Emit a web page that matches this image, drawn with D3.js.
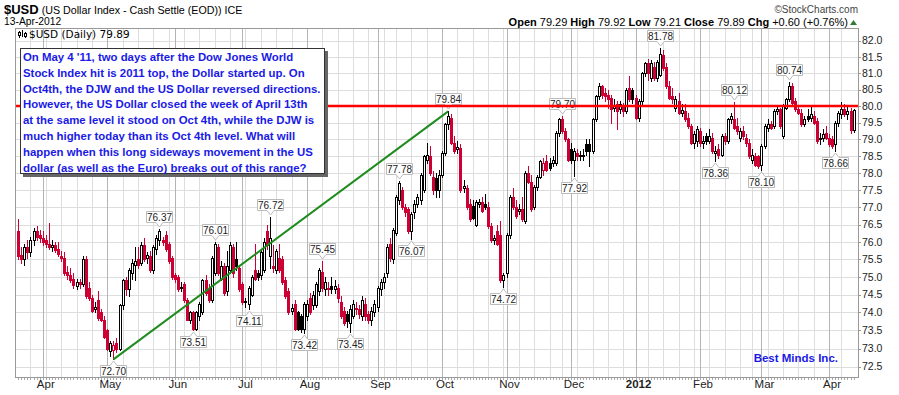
<!DOCTYPE html>
<html>
<head>
<meta charset="utf-8">
<script src="https://cdn.jsdelivr.net/npm/d3@7"></script>
<style>
  body { margin: 0; background: #fff; }
  svg { display: block; font-family: "Liberation Sans", Arial, sans-serif; }
</style>
</head>
<body>
<script>
// trading calendar
var firstDay = '2011-03-22', lastDay = '2012-04-13';
var holidays = ['2011-09-05', '2011-11-24', '2011-12-26', '2012-01-02', '2012-02-20', '2012-04-06'];

// daily candles
var opens = [
  76.30,75.62,75.50,75.85,75.70,76.05,76.30,76.20,76.10,76.05,
  75.95,75.85,75.90,75.80,75.60,75.55,75.15,75.05,74.95,74.75,
  74.85,74.80,75.50,74.70,74.40,74.10,74.35,74.00,73.80,73.50,
  72.92,72.95,73.15,73.00,74.20,74.90,74.65,75.10,75.35,75.50,
  75.40,75.90,75.55,75.60,75.20,75.80,76.05,76.05,76.20,75.95,
  75.55,75.05,75.00,74.68,74.80,74.35,73.80,74.00,73.55,73.90,
  74.00,74.90,74.70,74.35,75.10,75.85,74.95,75.30,74.60,75.20,
  75.85,75.50,75.25,74.80,74.30,74.25,74.50,75.20,75.10,75.05,
  75.20,76.30,75.60,75.30,75.20,75.55,75.50,74.90,74.60,74.05,
  74.25,74.00,73.90,73.55,73.90,74.40,74.20,74.20,74.60,75.15,
  74.65,74.70,74.75,74.65,74.70,74.30,74.05,73.95,73.70,73.90,
  74.10,74.10,73.90,74.25,73.95,73.80,74.00,74.15,74.65,74.85,
  75.10,75.95,75.50,76.25,77.20,77.50,77.00,76.95,76.30,76.85,
  77.10,77.20,77.50,78.40,78.50,77.90,77.85,77.50,77.95,78.60,
  79.45,79.65,78.90,78.70,78.75,77.55,77.55,77.10,77.05,76.50,
  77.10,77.15,77.10,77.00,76.45,76.05,76.30,76.20,74.90,75.10,
  76.20,77.30,77.00,76.90,76.95,76.60,78.00,77.75,77.00,77.60,
  77.90,78.10,78.35,78.30,78.30,78.30,79.20,79.60,79.25,79.00,
  78.70,78.40,78.60,78.55,78.55,78.85,78.85,78.65,79.60,80.30,
  80.60,80.40,80.35,80.25,79.95,80.05,79.90,80.00,79.85,80.55,
  80.50,80.25,79.65,80.15,81.00,81.30,80.85,81.20,80.85,80.95,
  81.55,81.20,80.60,80.30,79.95,80.15,79.80,79.85,79.65,79.40,
  78.90,78.95,79.25,78.90,79.10,78.95,79.05,78.60,78.70,78.55,
  79.10,78.95,79.60,79.60,79.40,79.05,79.25,79.05,78.90,78.40,
  78.50,78.50,78.25,78.80,79.35,79.45,79.40,79.85,79.90,79.10,
  79.95,80.20,80.60,80.15,79.90,79.80,79.45,79.70,79.65,79.70,
  79.55,79.00,79.05,79.20,79.05,79.00,78.85,79.50,79.75,79.90,
  79.75,79.85,79.29
];
var highs = [
  76.67,75.85,75.95,76.05,76.15,76.40,76.45,76.35,76.30,76.20,
  76.55,76.05,76.00,76.00,75.75,75.70,75.30,75.25,75.10,74.95,
  74.95,75.60,75.60,74.85,74.50,74.30,74.60,74.10,73.90,73.55,
  73.20,73.20,73.30,74.25,74.95,75.00,75.25,75.50,75.85,75.85,
  76.00,76.10,75.70,75.75,75.90,76.20,76.37,76.15,76.30,76.00,
  75.60,75.10,75.05,74.85,74.85,74.40,74.05,74.05,74.05,74.30,
  74.95,75.05,74.80,75.60,76.01,75.95,75.45,75.40,75.75,76.00,
  75.95,76.00,75.35,74.85,74.40,74.75,75.05,75.95,75.20,75.80,
  76.10,76.50,76.72,75.90,75.80,75.95,75.60,75.00,74.70,74.25,
  74.35,74.05,73.95,74.30,74.35,74.55,74.60,74.85,75.25,75.45,
  75.00,74.85,75.00,74.90,74.80,74.45,74.15,74.05,74.20,74.35,
  74.30,74.20,74.45,74.40,74.05,74.15,74.35,74.75,74.95,75.10,
  75.95,76.10,76.40,77.35,77.78,77.60,77.10,77.00,76.85,77.20,
  77.40,78.00,78.55,78.90,78.80,78.05,78.00,78.10,78.65,79.50,
  79.84,79.75,79.10,78.95,78.85,77.80,77.65,77.25,77.20,77.20,
  77.25,77.30,77.40,77.15,76.55,76.20,76.50,76.60,75.10,76.25,
  77.35,77.55,77.20,77.10,77.30,78.05,78.20,77.95,77.65,77.95,
  78.40,78.45,78.55,78.45,78.50,79.25,79.65,79.70,79.35,79.05,
  78.90,78.75,78.70,78.65,78.70,79.00,79.00,79.65,80.35,80.70,
  80.65,80.55,80.50,80.35,80.20,80.15,80.15,80.10,80.55,80.90,
  80.55,80.35,80.20,81.05,81.35,81.45,81.40,81.35,81.40,81.78,
  81.70,81.30,80.75,80.55,80.30,80.40,80.05,80.05,79.80,79.45,
  79.25,79.40,79.35,79.10,79.20,79.30,79.20,78.80,78.85,79.15,
  79.20,79.65,79.80,80.12,79.65,79.35,79.40,79.15,79.00,78.70,
  78.60,78.55,78.85,79.45,79.60,79.55,79.90,80.00,79.95,80.05,
  80.25,80.74,80.70,80.25,80.00,79.90,79.70,79.90,80.00,79.85,
  79.65,79.20,79.30,79.40,79.15,79.10,79.55,79.85,80.12,80.05,
  80.00,79.95,79.92
];
var lows = [
  75.52,75.40,75.35,75.55,75.60,75.90,76.05,76.00,75.90,75.85,
  75.80,75.75,75.70,75.60,75.45,75.05,74.95,74.85,74.70,74.65,
  74.70,74.75,74.40,74.35,74.00,74.00,73.80,73.75,73.30,72.95,
  72.80,72.70,72.90,72.95,74.10,74.50,74.45,74.95,74.90,75.25,
  75.35,75.45,75.40,75.15,75.10,75.65,75.90,75.90,75.75,75.40,
  74.95,74.85,74.60,74.60,74.30,73.78,73.70,73.51,73.52,73.80,
  73.95,74.50,74.30,74.30,75.05,75.05,74.90,74.50,74.50,75.10,
  75.00,75.20,74.60,74.25,74.15,74.11,74.45,74.90,74.90,74.95,
  75.15,75.80,75.25,75.15,75.10,75.15,74.80,74.40,73.95,73.95,
  73.50,73.50,73.45,73.42,73.80,73.95,74.10,74.15,74.50,74.60,
  74.50,74.50,74.55,74.55,74.30,73.85,73.65,73.60,73.45,73.85,
  73.95,73.85,73.80,73.80,73.70,73.65,73.90,74.05,74.50,74.70,
  75.00,75.45,75.40,76.20,77.10,76.95,76.75,76.25,76.07,76.70,
  77.00,77.10,77.45,78.30,77.95,77.40,77.30,77.30,77.90,78.55,
  79.30,78.85,78.60,78.60,77.45,77.45,76.95,76.60,76.65,76.45,
  77.00,76.85,76.95,76.40,76.00,75.95,75.90,74.85,74.72,75.00,
  76.10,76.95,76.70,76.80,76.60,76.55,77.70,76.90,76.95,77.50,
  77.85,77.95,78.05,78.10,78.20,78.25,79.10,79.20,78.95,78.35,
  78.30,77.92,78.40,78.40,78.40,78.55,78.20,78.60,79.55,80.20,
  80.25,80.15,79.95,79.50,79.85,79.30,79.80,79.70,79.80,80.15,
  80.10,79.60,79.55,80.05,80.90,80.80,80.75,80.80,80.75,80.90,
  81.10,80.55,80.20,80.10,79.85,79.75,79.70,79.55,79.35,78.85,
  78.75,78.80,78.80,78.75,78.85,78.90,78.60,78.36,78.45,78.50,
  78.85,78.90,79.50,79.30,79.15,78.95,79.00,78.80,78.45,78.30,
  78.20,78.15,78.10,78.75,79.25,79.30,79.35,79.75,79.35,79.05,
  79.90,80.15,80.05,79.85,79.75,79.40,79.40,79.55,79.55,79.45,
  78.90,78.85,78.95,79.00,78.80,78.75,78.66,79.40,79.65,79.70,
  79.60,79.20,79.21
];
var closes = [
  75.60,75.50,75.85,75.70,76.05,76.30,76.15,76.10,76.00,75.95,
  75.85,75.90,75.78,75.65,75.55,75.10,75.05,74.90,74.78,74.85,
  74.80,75.50,74.45,74.40,74.05,74.15,73.85,73.80,73.32,72.98,
  73.14,73.10,73.00,74.20,74.90,74.65,75.20,75.40,75.45,75.35,
  75.90,75.50,75.62,75.20,75.85,76.10,76.30,76.00,75.80,75.45,
  75.00,74.95,74.65,74.72,74.35,73.80,74.00,73.55,74.00,74.25,
  74.90,74.55,74.35,75.55,75.95,75.10,75.30,74.55,75.30,75.90,
  75.10,75.30,74.65,74.30,74.32,74.70,75.00,74.95,75.00,75.70,
  76.00,75.90,76.10,75.25,75.75,75.20,74.85,74.45,74.00,74.12,
  73.55,73.55,73.55,74.25,74.25,74.00,74.50,74.80,75.20,74.70,
  74.85,74.65,74.65,74.75,74.40,73.90,73.70,73.75,74.10,74.25,
  74.12,73.95,74.35,73.90,73.80,74.05,74.25,74.70,74.85,75.00,
  75.85,75.55,76.35,77.30,77.70,77.00,76.85,76.30,76.80,77.10,
  77.30,77.95,78.50,78.55,78.00,77.50,77.50,77.95,78.60,79.45,
  79.70,78.90,78.65,78.78,77.50,77.62,77.00,76.65,76.70,77.15,
  77.15,76.90,77.00,76.45,76.05,76.10,75.95,74.90,75.05,76.20,
  77.30,77.00,76.75,76.95,76.65,78.00,77.75,76.95,77.60,77.90,
  78.35,78.30,78.10,78.15,78.40,79.20,79.60,79.25,79.00,78.40,
  78.40,78.65,78.50,78.50,78.50,78.65,78.65,79.60,80.30,80.60,
  80.35,80.30,80.20,79.90,80.00,79.85,80.05,79.85,80.50,80.20,
  80.20,79.65,80.15,81.00,81.30,81.00,81.30,80.85,81.35,81.60,
  81.15,80.60,80.25,80.20,80.20,79.80,79.88,79.60,79.40,78.90,
  79.15,79.30,78.90,78.95,78.95,79.10,78.65,78.65,78.55,79.10,
  78.95,79.60,79.70,79.35,79.25,79.25,79.10,78.90,78.50,78.55,
  78.25,78.20,78.80,79.40,79.45,79.35,79.85,79.90,79.40,80.00,
  80.20,80.60,80.10,79.90,79.80,79.45,79.60,79.60,79.75,79.50,
  78.95,79.05,79.15,79.05,78.85,78.80,79.50,79.80,79.90,79.75,
  79.85,79.29,79.89
];

// swing highs / lows that carry a value tag: [day index, value, side]
var swings = [
  [31, 72.70, 'low'], [46, 76.37, 'high'], [57, 73.51, 'low'], [64, 76.01, 'high'],
  [75, 74.11, 'low'], [82, 76.72, 'high'], [93, 73.42, 'low'], [99, 75.45, 'high'],
  [108, 73.45, 'low'], [124, 77.78, 'high'], [128, 76.07, 'low'], [140, 79.84, 'high'],
  [158, 74.72, 'low'], [177, 79.70, 'high'], [181, 77.92, 'low'], [209, 81.78, 'high'],
  [227, 78.36, 'low'], [233, 80.12, 'high'], [242, 78.10, 'low'], [251, 80.74, 'high'],
  [266, 78.66, 'low']
];
var trendFrom = [31, 72.70], trendTo = [140, 79.84];
var resistance = 80.0;

var priceTicks = [72.5, 73.0, 73.5, 74.0, 74.5, 75.0, 75.5, 76.0, 76.5, 77.0,
                  77.5, 78.0, 78.5, 79.0, 79.5, 80.0, 80.5, 81.0, 81.5, 82.0];
var monthLabels = ['Apr', 'May', 'Jun', 'Jul', 'Aug', 'Sep', 'Oct', 'Nov', 'Dec', '2012', 'Feb', 'Mar', 'Apr'];

var noteLines = [
  "On May 4 '11, two days after the Dow Jones World",
  "Stock Index hit is 2011 top, the Dollar started up. On",
  "Oct4th, the DJW and the US Dollar reversed directions.",
  "However, the US Dollar closed the week of April 13th",
  "at the same level it stood on Oct 4th, while the DJW is",
  "much higher today than its Oct 4th level. What will",
  "happen when this long sideways movement in the US",
  "dollar (as well as the Euro) breaks out of this range?"
];

var W = 899, H = 395;
var plot = {left: 15, right: 858, top: 28, bottom: 377};
var RED = '#cc0033', BLUE = '#1a1ae6';

var svg = d3.select('body').append('svg').attr('width', W).attr('height', H);

var parse = d3.timeParse('%Y-%m-%d'), fmt = d3.timeFormat('%Y-%m-%d');
var hol = new Set(holidays);
var days = d3.timeDay.range(parse(firstDay), d3.timeDay.offset(parse(lastDay), 1))
  .filter(function(d) { return d.getDay() % 6 !== 0 && !hol.has(fmt(d)); });

var x = d3.scaleLinear().domain([0, days.length - 1]).range([18.2, 853.6]);
var y = d3.scaleLog().domain([72.5, 82]).range([366.7, 40.7]);
var px = function(i) { return Math.round(x(i)); };
var py = function(v) { return Math.round(y(v)); };

var weekStarts = [], monthStarts = [];
days.forEach(function(d, i) {
  if (i === 0) return;
  if (d.getMonth() !== days[i - 1].getMonth()) monthStarts.push(i);
  else if (d.getDay() < days[i - 1].getDay()) weekStarts.push(i);
});

// grid
var grid = svg.append('g').attr('shape-rendering', 'crispEdges');
grid.selectAll('line.h').data(priceTicks).enter().append('line')
  .attr('x1', plot.left).attr('x2', plot.right)
  .attr('y1', function(d) { return py(d) + 0.5; })
  .attr('y2', function(d) { return py(d) + 0.5; })
  .attr('stroke', '#dddddd');
grid.selectAll('line.w').data(weekStarts).enter().append('line')
  .attr('x1', function(i) { return px(i) + 0.5; })
  .attr('x2', function(i) { return px(i) + 0.5; })
  .attr('y1', plot.top).attr('y2', plot.bottom)
  .attr('stroke', '#dddddd');
grid.selectAll('line.m').data(monthStarts).enter().append('line')
  .attr('x1', function(i) { return px(i) + 0.5; })
  .attr('x2', function(i) { return px(i) + 0.5; })
  .attr('y1', plot.top).attr('y2', plot.bottom)
  .attr('stroke', '#b4b4b4');

svg.append('rect')
  .attr('x', plot.left + 0.5).attr('y', plot.top + 0.5)
  .attr('width', plot.right - plot.left).attr('height', plot.bottom - plot.top)
  .attr('fill', 'none').attr('stroke', '#999').attr('shape-rendering', 'crispEdges');

// axes
var yAxis = svg.append('g');
yAxis.selectAll('line').data(priceTicks).enter().append('line')
  .attr('x1', plot.right).attr('x2', plot.right + 3)
  .attr('y1', function(d) { return py(d) + 0.5; })
  .attr('y2', function(d) { return py(d) + 0.5; })
  .attr('stroke', '#999').attr('shape-rendering', 'crispEdges');
yAxis.selectAll('text').data(priceTicks).enter().append('text')
  .attr('x', plot.right + 4).attr('y', function(d) { return y(d); })
  .attr('dy', '0.36em').attr('font-size', '10.5px').attr('fill', '#222')
  .text(d3.format('.1f'));

svg.append('g').selectAll('line').data(days).enter().append('line')
  .attr('x1', function(d, i) { return px(i) + 0.5; })
  .attr('x2', function(d, i) { return px(i) + 0.5; })
  .attr('y1', plot.bottom + 1).attr('y2', plot.bottom + 3)
  .attr('stroke', '#aaa').attr('shape-rendering', 'crispEdges');

svg.append('g').selectAll('text').data(monthStarts).enter().append('text')
  .attr('x', function(i) { return x(i) + 3; }).attr('y', 388)
  .attr('text-anchor', 'middle')
  .style('font-family', '"Liberation Sans Narrow", "Arial Narrow", sans-serif')
  .attr('font-size', '11.5px').attr('fill', '#222')
  .attr('font-weight', function(i, k) { return monthLabels[k] === '2012' ? 'bold' : 'normal'; })
  .text(function(i, k) { return monthLabels[k]; });

// candles
var rows = days.map(function(d, i) {
  return {i: i, o: opens[i], h: highs[i], l: lows[i], c: closes[i],
          prev: i ? closes[i - 1] : opens[i]};
});
var candle = svg.append('g').attr('shape-rendering', 'crispEdges')
  .selectAll('g').data(rows).enter().append('g');
candle.append('line')
  .attr('x1', function(d) { return px(d.i) + 0.5; })
  .attr('x2', function(d) { return px(d.i) + 0.5; })
  .attr('y1', function(d) { return py(d.h); })
  .attr('y2', function(d) { return py(d.l) + 1; })
  .attr('stroke', function(d) { return d.c >= d.prev ? '#000' : RED; });
candle.append('rect')
  .attr('x', function(d) { return px(d.i) - 0.5; })
  .attr('y', function(d) { return py(Math.max(d.o, d.c)) + 0.5; })
  .attr('width', 2)
  .attr('height', function(d) { return Math.max(1, py(Math.min(d.o, d.c)) - py(Math.max(d.o, d.c))); })
  .attr('fill', function(d) { return d.c > d.o ? '#fff' : (d.c >= d.prev ? '#000' : RED); })
  .attr('stroke', function(d) { return d.c >= d.prev ? '#000' : RED; });

// trend line
svg.append('line')
  .attr('x1', x(trendFrom[0])).attr('y1', y(trendFrom[1]))
  .attr('x2', x(trendTo[0])).attr('y2', y(trendTo[1]))
  .attr('stroke', '#1e8c1e').attr('stroke-width', 2);

// value tags
var tag = svg.append('g').selectAll('g').data(swings).enter().append('g');
tag.append('path')
  .attr('d', function(d) {
    var cx = px(d[0]) + 0.5, w = 26, h = 11, l = cx - w / 2, r = cx + w / 2;
    if (d[2] === 'high') {
      var tip = py(d[1]) - 2, b = tip - 4.5, t = b - h;
      return 'M' + l + ',' + t + 'H' + r + 'V' + b + 'H' + (cx + 3.5) + 'L' + cx + ',' + tip +
             'L' + (cx - 3.5) + ',' + b + 'H' + l + 'Z';
    }
    var tip2 = py(d[1]) + 2, t2 = tip2 + 4.5, b2 = t2 + h;
    return 'M' + l + ',' + b2 + 'H' + r + 'V' + t2 + 'H' + (cx + 3.5) + 'L' + cx + ',' + tip2 +
           'L' + (cx - 3.5) + ',' + t2 + 'H' + l + 'Z';
  })
  .attr('fill', '#fff').attr('stroke', '#bbb');
tag.append('text')
  .attr('x', function(d) { return px(d[0]) + 0.5; })
  .attr('y', function(d) { return d[2] === 'high' ? py(d[1]) - 8.5 : py(d[1]) + 15.5; })
  .attr('text-anchor', 'middle').attr('font-size', '10px').attr('fill', '#222')
  .text(function(d) { return d[1].toFixed(2); });

// resistance line
svg.append('line')
  .attr('x1', plot.left + 1).attr('x2', plot.right)
  .attr('y1', y(resistance)).attr('y2', y(resistance))
  .attr('stroke', '#ff0000').attr('stroke-width', 2.5);

// legend
var leg = svg.append('g');
leg.append('path').attr('d', 'M19.5,31V38M22.5,30V37M25.5,32V38').attr('stroke', '#000');
leg.append('rect').attr('x', 18.5).attr('y', 32.5).attr('width', 2).attr('height', 3).attr('fill', '#fff').attr('stroke', '#000');
leg.append('rect').attr('x', 24.5).attr('y', 33.5).attr('width', 2).attr('height', 3).attr('fill', '#fff').attr('stroke', '#000');
leg.append('text').attr('x', 29).attr('y', 38)
  .style('font-family', '"DejaVu Sans", sans-serif').attr('font-size', '10.5px')
  .text('$USD (Daily) 79.89');

// note box
var box = svg.append('g').attr('shape-rendering', 'crispEdges');
box.append('rect').attr('x', 23).attr('y', 51).attr('width', 305).attr('height', 126).attr('fill', '#666');
box.append('rect').attr('x', 20.5).attr('y', 48.5).attr('width', 304).attr('height', 125)
  .attr('fill', '#fff').attr('stroke', '#333');
box.append('g').selectAll('text').data(noteLines).enter().append('text')
  .attr('x', 23).attr('y', function(d, k) { return 61 + k * 15.8; })
  .attr('font-size', '11.4px').attr('font-weight', 'bold').attr('fill', BLUE)
  .text(function(d) { return d; });

svg.append('text').attr('x', 838).attr('y', 362).attr('text-anchor', 'end')
  .attr('font-size', '11.5px').attr('font-weight', 'bold').attr('fill', BLUE)
  .text('Best Minds Inc.');

// header
var title = svg.append('text').attr('x', 4).attr('y', 14);
title.append('tspan').attr('font-size', '13px').attr('font-weight', 'bold').text('$USD');
title.append('tspan').attr('font-size', '10.7px').text(' (US Dollar Index - Cash Settle (EOD)) ICE');
svg.append('text').attr('x', 4).attr('y', 25).attr('font-size', '10.3px').text('13-Apr-2012');

svg.append('text').attr('x', 858).attr('y', 13).attr('text-anchor', 'end')
  .attr('font-size', '10px').attr('fill', '#444').text('\u00a9StockCharts.com');

var quote = [['Open', '79.29'], ['High', '79.92'], ['Low', '79.21'], ['Close', '79.89'], ['Chg', '+0.60 (+0.76%)']];
var qt = svg.append('text').attr('x', 848).attr('y', 26).attr('text-anchor', 'end').attr('font-size', '11px');
quote.forEach(function(q, k) {
  qt.append('tspan').attr('font-weight', 'bold').text((k ? '  ' : '') + q[0] + ' ');
  qt.append('tspan').text(q[1]);
});
svg.append('path').attr('d', 'M850,25L857,25L853.5,20Z').attr('fill', '#2e7d32');
</script>
</body>
</html>
